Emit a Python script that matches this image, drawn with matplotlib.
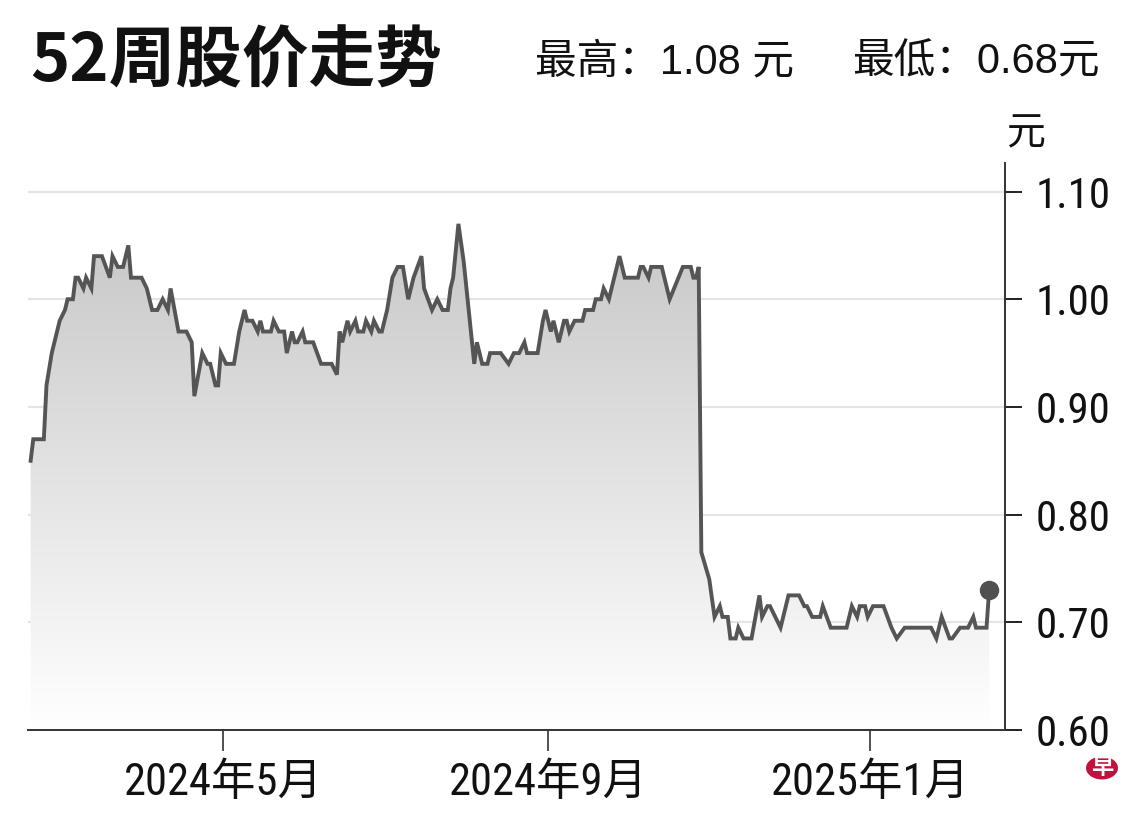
import numpy as np
import pandas as pd
import matplotlib
matplotlib.use("Agg")
import matplotlib.pyplot as plt
import matplotlib.dates as mdates
from matplotlib import font_manager as fm
from matplotlib.colors import LinearSegmentedColormap
from matplotlib.patches import Polygon, Circle

# Datos (cierre diario aproximado)
fechas = [
    "2024-02-18", "2024-02-19", "2024-02-23", "2024-02-24", "2024-02-26", "2024-02-27",
    "2024-02-29", "2024-03-02", "2024-03-03", "2024-03-05", "2024-03-06", "2024-03-07",
    "2024-03-09", "2024-03-10", "2024-03-12", "2024-03-13", "2024-03-16", "2024-03-19",
    "2024-03-20", "2024-03-22", "2024-03-24", "2024-03-26", "2024-03-27", "2024-03-31",
    "2024-04-02", "2024-04-04", "2024-04-06", "2024-04-08", "2024-04-10", "2024-04-11",
    "2024-04-14", "2024-04-17", "2024-04-19", "2024-04-20", "2024-04-23", "2024-04-25",
    "2024-04-26", "2024-04-28", "2024-04-29", "2024-04-30", "2024-05-02", "2024-05-05",
    "2024-05-07", "2024-05-09", "2024-05-10", "2024-05-12", "2024-05-14", "2024-05-15",
    "2024-05-16", "2024-05-19", "2024-05-20", "2024-05-22", "2024-05-24", "2024-05-25",
    "2024-05-27", "2024-05-28", "2024-05-29", "2024-05-31", "2024-06-01", "2024-06-04",
    "2024-06-07", "2024-06-11", "2024-06-13", "2024-06-14", "2024-06-15", "2024-06-17",
    "2024-06-18", "2024-06-20", "2024-06-21", "2024-06-23", "2024-06-24", "2024-06-26",
    "2024-06-27", "2024-06-29", "2024-06-30", "2024-07-02", "2024-07-04", "2024-07-06",
    "2024-07-08", "2024-07-10", "2024-07-12", "2024-07-15", "2024-07-16", "2024-07-19",
    "2024-07-21", "2024-07-23", "2024-07-25", "2024-07-26", "2024-07-27", "2024-07-29",
    "2024-07-31", "2024-08-04", "2024-08-05", "2024-08-07", "2024-08-09", "2024-08-10",
    "2024-08-14", "2024-08-17", "2024-08-19", "2024-08-21", "2024-08-23", "2024-08-24",
    "2024-08-28", "2024-08-30", "2024-08-31", "2024-09-02", "2024-09-03", "2024-09-05",
    "2024-09-07", "2024-09-08", "2024-09-09", "2024-09-11", "2024-09-14", "2024-09-15",
    "2024-09-18", "2024-09-19", "2024-09-21", "2024-09-22", "2024-09-24", "2024-09-26",
    "2024-09-28", "2024-09-30", "2024-10-05", "2024-10-06", "2024-10-07", "2024-10-09",
    "2024-10-10", "2024-10-14", "2024-10-17", "2024-10-22", "2024-10-25", "2024-10-26",
    "2024-10-27", "2024-10-28", "2024-10-29", "2024-11-01", "2024-11-03", "2024-11-05",
    "2024-11-06", "2024-11-08", "2024-11-09", "2024-11-11", "2024-11-12", "2024-11-14",
    "2024-11-17", "2024-11-20", "2024-11-21", "2024-11-23", "2024-11-24", "2024-11-26",
    "2024-11-28", "2024-12-01", "2024-12-05", "2024-12-07", "2024-12-08", "2024-12-10",
    "2024-12-13", "2024-12-14", "2024-12-17", "2024-12-23", "2024-12-25", "2024-12-27",
    "2024-12-28", "2024-12-30", "2024-12-31", "2025-01-02", "2025-01-06", "2025-01-09",
    "2025-01-11", "2025-01-14", "2025-01-24", "2025-01-26", "2025-01-28", "2025-01-31",
    "2025-02-01", "2025-02-04", "2025-02-07", "2025-02-09", "2025-02-10", "2025-02-14",
    "2025-02-15",
]
precios = [
    0.85, 0.87, 0.87, 0.92, 0.95, 0.96,
    0.98, 0.99, 1.00, 1.00, 1.02, 1.02,
    1.01, 1.02, 1.01, 1.04, 1.04, 1.02,
    1.04, 1.03, 1.03, 1.05, 1.02, 1.02,
    1.01, 0.99, 0.99, 1.00, 0.99, 1.01,
    0.97, 0.97, 0.96, 0.91, 0.95, 0.94,
    0.94, 0.92, 0.92, 0.95, 0.94, 0.94,
    0.97, 0.99, 0.98, 0.98, 0.97, 0.98,
    0.97, 0.97, 0.98, 0.97, 0.97, 0.95,
    0.97, 0.96, 0.96, 0.97, 0.96, 0.96,
    0.94, 0.94, 0.93, 0.97, 0.96, 0.98,
    0.97, 0.98, 0.97, 0.97, 0.98, 0.97,
    0.98, 0.97, 0.97, 0.99, 1.02, 1.03,
    1.03, 1.00, 1.02, 1.04, 1.01, 0.99,
    1.00, 0.99, 0.99, 1.01, 1.02, 1.07,
    1.035, 0.94, 0.96, 0.94, 0.94, 0.95,
    0.95, 0.94, 0.95, 0.95, 0.96, 0.95,
    0.95, 0.98, 0.99, 0.97, 0.98, 0.96,
    0.98, 0.98, 0.97, 0.98, 0.98, 0.99,
    0.99, 1.00, 1.00, 1.01, 1.00, 1.02,
    1.04, 1.02, 1.02, 1.03, 1.03, 1.02,
    1.03, 1.03, 1.00, 1.03, 1.03, 1.02,
    1.02, 1.03, 0.765, 0.74, 0.705, 0.715,
    0.705, 0.705, 0.685, 0.685, 0.695, 0.685,
    0.685, 0.725, 0.705, 0.715, 0.715, 0.705,
    0.695, 0.725, 0.725, 0.715, 0.715, 0.705,
    0.705, 0.715, 0.695, 0.695, 0.715, 0.705,
    0.715, 0.715, 0.705, 0.715, 0.715, 0.695,
    0.685, 0.695, 0.695, 0.685, 0.705, 0.685,
    0.685, 0.695, 0.695, 0.705, 0.695, 0.695,
    0.73,
]
ticks_fechas = ["2024-05-01", "2024-09-01", "2025-01-01"]
ticks_etiquetas = ["2024年5月", "2024年9月", "2025年1月"]
y_ticks = [0.60, 0.70, 0.80, 0.90, 1.00, 1.10]

#Fuentes (una estrecha si existe)
nombres = {f.name for f in fm.fontManager.ttflist}
estrecha = "Liberation Sans"
for cand in ["Liberation Sans Narrow", "Roboto Condensed", "Noto Sans Condensed",
             "Open Sans Condensed", "Arial Narrow"]:
    if cand in nombres:
        estrecha = cand
        break
cjk = "Noto Sans CJK SC"
plt.rcParams["font.family"] = [estrecha, cjk, "DejaVu Sans"]

x = mdates.date2num(pd.to_datetime(fechas))
y = np.array(precios)
x0 = mdates.date2num(pd.Timestamp("2024-02-17"))
x1 = mdates.date2num(pd.Timestamp("2025-02-21"))
y0, y1 = 0.60, 1.1265

fig = plt.figure(figsize=(11.4, 8.18), dpi=100)
ax = fig.add_axes([28 / 1140, 1 - 730 / 818, (1005 - 28) / 1140, (730 - 163) / 818])

#Degradado bajo la linea
cmap = LinearSegmentedColormap.from_list("gris", ["#ffffff", "#c6c6c6"])
grad = np.linspace(0, 1, 256).reshape(-1, 1)
im = ax.imshow(grad, cmap=cmap, aspect="auto", origin="lower",
               extent=[x0, x1, y0, 1.08], zorder=1, interpolation="bilinear")
verts = np.vstack([[x[0], y0], np.column_stack([x, y]), [x[-1], y0]])
poly = Polygon(verts, closed=True, facecolor="none", edgecolor="none")
ax.add_patch(poly)
im.set_clip_path(poly)

for v in y_ticks[1:]:
    ax.axhline(v, color="#e4e4e4", linewidth=1.6, zorder=0.5)

ax.plot(x, y, color="#555555", linewidth=2.8, zorder=3, solid_joinstyle="miter")
ax.plot(x[-1], y[-1], "o", color="#505050", markersize=13, zorder=4)

ax.set_xlim(x0, x1)
ax.set_ylim(y0, y1)

ax.spines["top"].set_visible(False)
ax.spines["left"].set_visible(False)
for s in ("right", "bottom"):
    ax.spines[s].set_color("#333333")
    ax.spines[s].set_linewidth(1.4)

ax.yaxis.tick_right()
ax.set_yticks(y_ticks)
ax.set_yticklabels([f"{v:.2f}" for v in y_ticks])
ax.tick_params(axis="y", direction="out", length=12, width=1.4, pad=10,
               labelsize=31, colors="#222222", labelcolor="#111111")
ax.set_xticks(mdates.date2num(pd.to_datetime(ticks_fechas)))
ax.set_xticklabels(ticks_etiquetas)
ax.tick_params(axis="x", direction="out", length=15, width=1.2, pad=8,
               labelsize=32, colors="#333333", labelcolor="#111111")

#Titulos
fig.text(30 / 1140, 1 - 62 / 818, "52周股价走势", fontsize=48, fontweight="bold",
         family=[cjk], va="center", ha="left", color="#111111")
fig.text(535 / 1140, 1 - 62 / 818, "最高：1.08 元", fontsize=30,
         family=["Liberation Sans", cjk], va="center", ha="left", color="#111111")
fig.text(1100 / 1140, 1 - 62 / 818, "最低：0.68元", fontsize=30,
         family=["Liberation Sans", cjk], va="center", ha="right", color="#111111")
fig.text(1026 / 1140, 1 - 133 / 818, "元", fontsize=28, family=[cjk],
         va="center", ha="center", color="#111111")

#Logo
logo = Circle((1102 / 1140, 1 - 768 / 818), 16 / 1140, transform=fig.transFigure,
              facecolor="#c4103c", edgecolor="none")
fig.patches.append(logo)
fig.text(1102 / 1140, 1 - 768 / 818, "早", fontsize=16, fontweight="bold", family=[cjk],
         color="white", va="center", ha="center")

fig.savefig("out.png", dpi=100)
